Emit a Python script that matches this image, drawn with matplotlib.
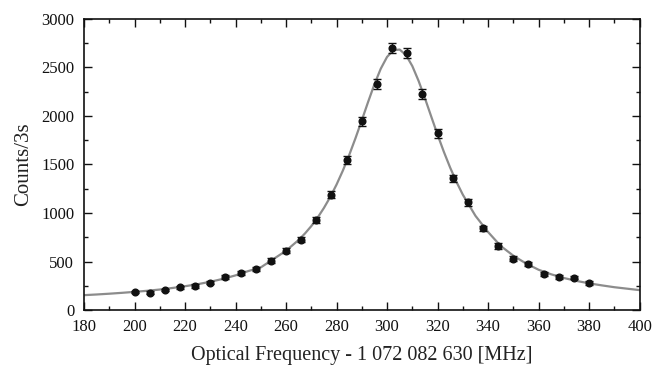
import matplotlib
matplotlib.use("Agg")
import matplotlib.pyplot as plt
from matplotlib.ticker import MultipleLocator

plt.rcParams['font.family'] = ['Liberation Serif', 'DejaVu Serif']
plt.rcParams['mathtext.fontset'] = 'stix'

# measured data points
freq = [200, 206, 212, 218, 224, 230, 236, 242, 248, 254, 260, 266, 272, 278, 284,
        290, 296, 302, 308, 314, 320, 326, 332, 338, 344, 350, 356, 362, 368, 374, 380]
counts = [185, 178, 206, 234, 247, 282, 343, 385, 419, 508, 611, 725, 924, 1188, 1546,
          1945, 2330, 2704, 2653, 2227, 1821, 1357, 1110, 842, 660, 529, 477, 371, 340, 333, 278]
errors = [14, 13, 14, 15, 16, 17, 19, 20, 20, 23, 25, 27, 30, 34, 39,
          44, 48, 52, 51, 47, 43, 37, 33, 29, 26, 23, 22, 19, 18, 18, 17]

# fitted curve
fit_x = [180, 185, 190, 195, 200, 205, 210, 215, 220, 225, 230, 235, 240, 245, 250, 255,
         260, 265, 267.5, 270, 272.5, 275, 277.5, 280, 282.5, 285, 287.5, 290, 292.5, 295,
         297.5, 300, 302.5, 305, 307.5, 310, 312.5, 315, 317.5, 320, 322.5, 325, 327.5,
         330, 335, 340, 345, 350, 355, 360, 365, 370, 375, 380, 385, 390, 395, 400]
fit_y = [153, 160, 168, 177, 187, 198, 211, 227, 245, 266, 291, 321, 357, 401, 439, 525,
         611, 722, 789, 865, 952, 1052, 1165, 1293, 1437, 1597, 1771, 1956, 2145, 2327,
         2487, 2609, 2678, 2685, 2628, 2515, 2361, 2183, 1994, 1807, 1630, 1467, 1320,
         1189, 971, 804, 660, 560, 480, 415, 368, 330, 300, 275, 254, 235, 220, 205]

fig = plt.figure(figsize=(6.63, 3.68), dpi=100)
ax = fig.add_axes([0.1267, 0.1576, 0.838, 0.7908])

ax.plot(fit_x, fit_y, color='#8c8c8c', lw=1.6, zorder=2)
ax.errorbar(freq, counts, yerr=errors, fmt='o', color='#111111', ms=4.8,
            elinewidth=1.0, capsize=3.2, capthick=1.0, zorder=3)

ax.set_xlim(180, 400)
ax.set_ylim(0, 3000)
ax.xaxis.set_major_locator(MultipleLocator(20))
ax.xaxis.set_minor_locator(MultipleLocator(10))
ax.yaxis.set_major_locator(MultipleLocator(500))
ax.yaxis.set_minor_locator(MultipleLocator(250))
ax.tick_params(which='both', direction='in', top=True, right=True, width=1.0,
               labelsize=12, colors='#111111')
ax.tick_params(which='major', length=5.5)
ax.tick_params(which='minor', length=3)
ax.tick_params(axis='x', pad=6.5)
ax.tick_params(axis='y', pad=7)
for s in ax.spines.values():
    s.set_linewidth(1.2)
    s.set_color('#111111')

ax.set_xlabel('Optical Frequency - 1 072 082 630 [MHz]', fontsize=14.5, labelpad=8, color='#222222')
ax.set_ylabel('Counts/3s', fontsize=15, labelpad=6, color='#222222')

fig.savefig('out.png', dpi=100)
